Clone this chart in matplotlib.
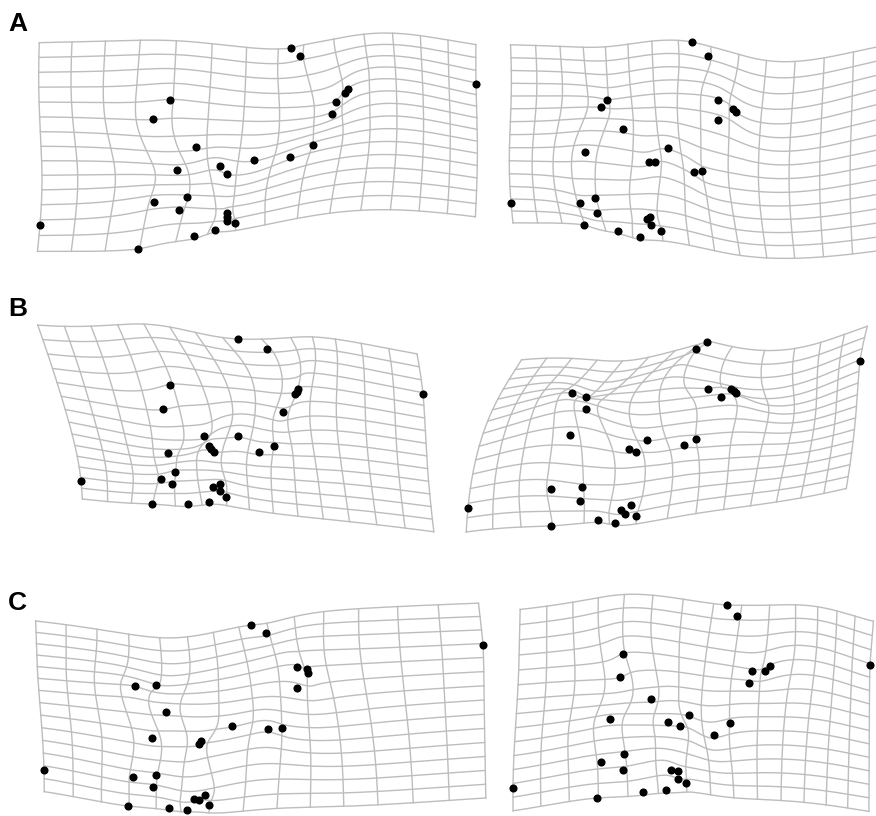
import numpy as np
import matplotlib.pyplot as plt

# landmark positions (pixel x, pixel y from top)
# the first 27 entries of every panel are the same landmarks in the same order
a_left = [(291, 48), (300, 56), (348, 89), (345, 93), (336, 102), (332, 114), (170, 100), (153, 119),
          (196, 147), (313, 145), (290, 157), (254, 160), (220, 166), (227, 174), (177, 170), (187, 197),
          (154, 202), (179, 210), (227, 213), (227, 217), (227, 221), (235, 223), (215, 230), (194, 236),
          (138, 249), (40, 225), (476, 84)]
a_right = [(692, 42), (708, 56), (736, 112), (733, 109), (718, 100), (718, 120), (607, 100), (601, 107),
           (623, 129), (702, 171), (694, 172), (668, 148), (649, 162), (655, 162), (585, 152), (595, 198),
           (580, 203), (597, 213), (650, 217), (647, 219), (651, 225), (661, 231), (640, 237), (618, 231),
           (584, 225), (511, 203), (882, 90)]

b_left = [(238, 339), (267, 349), (298, 389), (297, 392), (295, 394), (283, 412), (170, 385), (163, 409),
          (204, 436), (274, 446), (259, 452), (238, 436), (209, 446), (214, 452), (168, 453), (175, 472),
          (161, 479), (172, 484), (220, 484), (213, 487), (220, 491), (226, 497), (209, 502), (188, 504),
          (152, 504), (81, 481), (423, 394)]
b_right = [(707, 342), (696, 349), (736, 393), (731, 389), (708, 389), (721, 397), (586, 397), (572, 393),
           (586, 409), (696, 439), (684, 445), (647, 440), (629, 449), (636, 452), (570, 435), (582, 487),
           (551, 489), (580, 501), (631, 505), (621, 510), (625, 514), (636, 516), (615, 523), (598, 520),
           (551, 526), (468, 508), (860, 361)]
b_left_extra = [(211, 449)]
b_right_extra = [(734, 391)]

c_left = [(251, 625), (266, 633), (307, 669), (308, 673), (297, 667), (297, 688), (156, 685), (135, 686),
          (166, 712), (282, 728), (268, 729), (232, 726), (201, 741), (199, 744), (152, 738), (156, 775),
          (133, 777), (153, 787), (205, 795), (194, 799), (199, 800), (209, 805), (187, 810), (169, 808),
          (128, 806), (44, 770), (483, 645)]
c_right = [(727, 605), (737, 616), (770, 666), (765, 671), (752, 671), (749, 683), (623, 654), (620, 677),
           (651, 699), (730, 723), (714, 735), (689, 715), (668, 722), (680, 726), (610, 719), (624, 754),
           (601, 762), (623, 770), (678, 771), (671, 770), (678, 779), (686, 783), (666, 790), (643, 792),
           (597, 798), (513, 788), (870, 665)]

row_labels = ['A', 'B', 'C']
label_pos = [(8, 12), (8, 297), (8, 591)]

panels = [(a_left, []), (a_right, []),
          (b_left, b_left_extra), (b_right, b_right_extra),
          (c_left, []), (c_right, [])]

n_lines = 15


def normalise(X):
    c = X.mean(axis=0)
    cs = np.sqrt(((X - c) ** 2).sum())
    return (X - c) / cs


def tps_kernel(d2):
    out = np.zeros_like(d2)
    m = d2 > 0
    out[m] = d2[m] * np.log(d2[m])
    return out


def tps_warp(src, dst, pts):
    n = len(src)
    K = tps_kernel(((src[:, None, :] - src[None, :, :]) ** 2).sum(-1))
    P = np.hstack([np.ones((n, 1)), src])
    L = np.zeros((n + 3, n + 3))
    L[:n, :n] = K
    L[:n, n:] = P
    L[n:, :n] = P.T
    rhs = np.zeros((n + 3, 2))
    rhs[:n] = dst
    coef = np.linalg.solve(L, rhs)
    U = tps_kernel(((pts[:, None, :] - src[None, :, :]) ** 2).sum(-1))
    return U @ coef[:n] + coef[n] + pts @ coef[n + 1:]


# consensus shape: mean of the six (centred, unit size) configurations
targets = [np.array(p, float) for p, _ in panels]
ref = np.mean([normalise(t) for t in targets], axis=0)

xs = np.linspace(ref[:, 0].min(), ref[:, 0].max(), n_lines)
ys = np.linspace(ref[:, 1].min(), ref[:, 1].max(), n_lines)
tx = np.linspace(xs[0], xs[-1], 150)
ty = np.linspace(ys[0], ys[-1], 150)

fig = plt.figure(figsize=(8.76, 8.16), dpi=100)
ax = fig.add_axes([0, 0, 1, 1])
ax.set_xlim(0, 876)
ax.set_ylim(816, 0)
ax.axis('off')

for target, (_, extra) in zip(targets, panels):
    for x in xs:
        w = tps_warp(ref, target, np.column_stack([np.full_like(ty, x), ty]))
        ax.plot(w[:, 0], w[:, 1], color='#bdbdbd', lw=1.0, zorder=1)
    for y in ys:
        w = tps_warp(ref, target, np.column_stack([tx, np.full_like(tx, y)]))
        ax.plot(w[:, 0], w[:, 1], color='#bdbdbd', lw=1.0, zorder=1)
    pts = np.vstack([target, np.array(extra, float).reshape(-1, 2)])
    ax.scatter(pts[:, 0], pts[:, 1], s=34, color='black', lw=0, zorder=3)

for lab, (x, y) in zip(row_labels, label_pos):
    ax.text(x, y, lab, fontsize=19, fontweight='bold', family='Liberation Sans',
            ha='left', va='top')

fig.savefig('out.png', dpi=100)
